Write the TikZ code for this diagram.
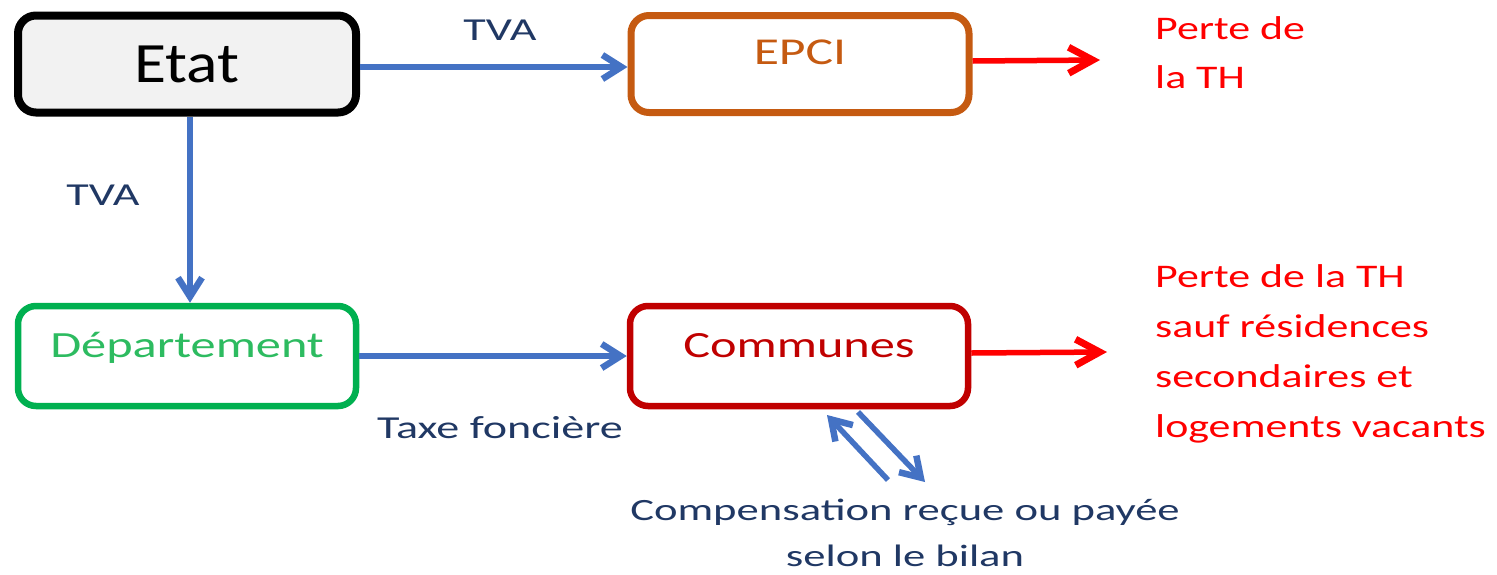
\documentclass[tikz,border=0pt]{standalone}
\usepackage{fontspec}
\setmainfont{Carlito}[FakeStretch=1.25]
\newfontfamily\etatf{Carlito}[FakeStretch=1.15]
\newfontfamily\boxf{Carlito}[FakeStretch=1.36]
\newfontfamily\redf{Carlito}[FakeStretch=1.33]
\newfontfamily\bluef{Carlito}[FakeStretch=1.44]
\usetikzlibrary{arrows.meta}
\definecolor{arrowblue}{HTML}{4472C4}
\definecolor{navy}{HTML}{203864}
\definecolor{epcior}{HTML}{C55A11}
\definecolor{depgreen}{HTML}{00B050}
\definecolor{deptext}{HTML}{2DBB60}
\definecolor{comred}{HTML}{C00000}
\definecolor{pure}{HTML}{FF0000}
\definecolor{etatfill}{HTML}{F2F2F2}
\tikzset{
  box/.style={draw, rectangle, rounded corners=18pt, minimum width=338pt, minimum height=97pt, inner sep=0pt},
  flow/.style={arrowblue, line width=5.5pt, -{Straight Barb[length=19pt,width=24pt,line width=6.5pt]}},
  loss/.style={pure, line width=5.5pt, -{Straight Barb[length=24pt,width=26pt,line width=7pt]}},
  blab/.style={navy, font=\bluef\fontsize{32}{38}\selectfont, inner sep=0pt},
  rlab/.style={pure, font=\redf\fontsize{33}{49}\selectfont, align=left, inner sep=0pt, anchor=north west}
}
\begin{document}
\begin{tikzpicture}[x=1pt,y=-1pt]
\useasboundingbox (0,0) rectangle (1497,574);
\node[box, line width=8pt, fill=etatfill, font=\etatf\fontsize{57}{60}\selectfont, text height=37pt, text depth=0pt] (etat) at (187,64) {Etat};
\node[box, line width=7pt, draw=epcior, text=epcior, font=\boxf\fontsize{38}{40}\selectfont, text height=25pt, text depth=24pt] (epci) at (800,64) {EPCI};
\node[box, line width=6.5pt, draw=depgreen, text=deptext, font=\boxf\fontsize{37}{40}\selectfont, text height=24pt, text depth=22pt, minimum height=100pt] (dep) at (187,356) {Département};
\node[box, line width=6.5pt, draw=comred, text=comred, font=\boxf\fontsize{37}{40}\selectfont, text height=24pt, text depth=22pt, minimum height=100pt] (com) at (799,356) {Communes};

\coordinate (r1) at (1100,60);
\coordinate (r2) at (1107,352);
\coordinate (u1) at (888,480);
\coordinate (u2) at (827,415);
\coordinate (d1) at (858,412);
\coordinate (d2) at (925,482);

\draw[flow] ([yshift=-3pt]etat.east) -- ([yshift=-3pt]epci.west);
\draw[flow] ([xshift=3pt]etat.south) -- ([xshift=3pt]dep.north);
\draw[flow] (dep.east) -- (com.west);
\draw[loss] ([yshift=3pt]epci.east) -- (r1);
\draw[loss] ([yshift=3pt]com.east) -- (r2);
\draw[flow] (u1) -- (u2);
\draw[flow] (d1) -- (d2);

\node[blab] (tva1) at (500,30) {TVA};
\node[blab] (tva2) at (103,195) {TVA};
\node[blab] (taxe) at (500,428) {Taxe foncière};
\node[blab, align=center, font=\bluef\fontsize{31}{46}\selectfont] (compens) at (905,533) {Compensation reçue ou payée\\selon le bilan};
\node[rlab] (perte1) at (1155,16) {Perte de\\la TH};
\node[rlab, font=\redf\fontsize{33}{50}\selectfont] (perte2) at (1155,264) {Perte de la TH\\sauf résidences\\secondaires et\\logements vacants};
\end{tikzpicture}
\end{document}
